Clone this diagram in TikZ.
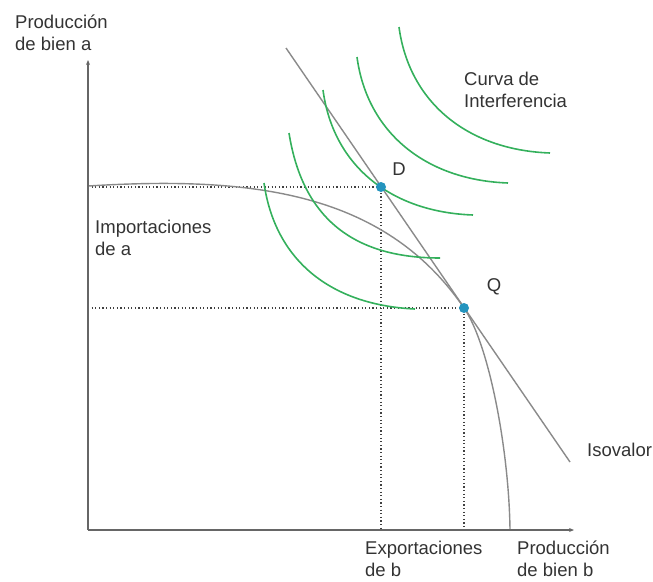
\documentclass[tikz,border=0pt]{standalone}
\usepackage{fontspec}
\setmainfont{Liberation Sans}
\usetikzlibrary{arrows.meta, positioning}

\definecolor{icgreen}{RGB}{52,176,92}
\definecolor{dotblue}{RGB}{36,148,190}
\definecolor{ppfgray}{RGB}{138,138,138}

\begin{document}
\begin{tikzpicture}[
  x=1pt, y=-1pt,
  axis/.style={draw=black!60, line width=1.3pt, -{Stealth[length=5pt, width=4pt]}},
  guide/.style={draw=black!75, line width=1.2pt, dash pattern=on 1.2pt off 2.4pt},
  ppf/.style={draw=ppfgray, line width=1.4pt},
  icurve/.style={draw=icgreen, line width=1.6pt},
  dot/.style={circle, fill=dotblue, inner sep=0pt, minimum size=10pt},
  lbl/.style={font=\fontsize{18.5}{22}\selectfont, text=black!80, inner sep=0pt, align=left, anchor=north west}
]
  \useasboundingbox (0,0) rectangle (653,581);
  \coordinate (O) at (88,530);
  \coordinate (ytop) at (88,60);
  \coordinate (xend) at (574,530);
  \coordinate (d) at (381,187);
  \coordinate (q) at (464,308);
  \coordinate (isotop) at (286,48);
  \coordinate (isobot) at (570,462);
  \coordinate (ppfstart) at (88,186);
  \coordinate (ppfend) at (510,530);

  \draw[guide] (O |- d) -- (d) -- (d |- O);
  \draw[guide] (O |- q) -- (q) -- (q |- O);

  \draw[ppf] (ppfstart) .. controls (250,176) and (384,191) .. (q)
    .. controls (489,344) and (509,450) .. (ppfend);
  \draw[ppf] (isotop) -- (isobot);

  \draw[icurve] (264,183) .. controls (275,260) and (330,305) .. (415,309);
  \draw[icurve] (289,133) .. controls (302,215) and (350,258) .. (440,258);
  \draw[icurve] (323,90) .. controls (333,165) and (390,212) .. (473,215);
  \draw[icurve] (357,57) .. controls (367,132) and (425,180) .. (508,183);
  \draw[icurve] (399,27) .. controls (409,102) and (467,150) .. (550,153);

  \draw[axis] (O) -- (ytop);
  \draw[axis] (O) -- (xend);

  \node[dot] (D) at (d) {};
  \node[dot] (Q) at (q) {};

  \node[lbl] (ylabel) at (15,15) {Producción\\de bien a};
  \node[lbl] (xlabel) at (517,541) {Producción\\de bien b};
  \node[lbl] (curva) at (464,72) {Curva de\\Interferencia};
  \node[lbl] (import) at (95,220) {Importaciones\\de a};
  \node[lbl] (export) at (365,541) {Exportaciones\\de b};
  \node[lbl] (iso) at (587,443) {Isovalor};
  \node[lbl, anchor=center] (Dlabel) at (399,169) {D};
  \node[lbl, anchor=center] (Qlabel) at (494,287) {Q};
\end{tikzpicture}
\end{document}
